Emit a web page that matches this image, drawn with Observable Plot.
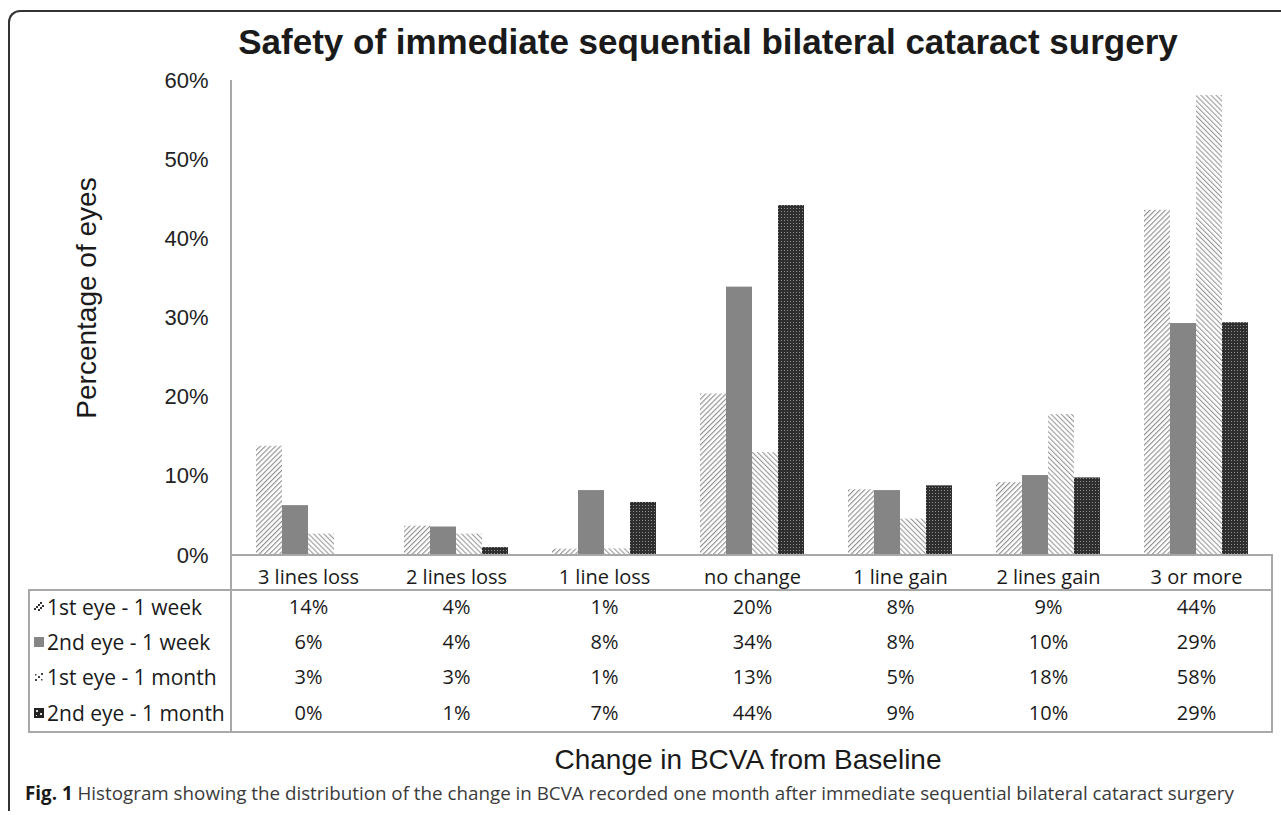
<!DOCTYPE html>
<html>
<head>
<meta charset="utf-8">
<script src="https://cdn.jsdelivr.net/npm/d3@7"></script>
<script src="https://cdn.jsdelivr.net/npm/@observablehq/plot@0.6"></script>
<style>
  body { margin: 0; background: #fff; }
  #wrap { position: relative; width: 1281px; height: 815px; overflow: hidden; background: #fff; font-family: "Liberation Sans", Arial, sans-serif; }
  .frame { position: absolute; left: 8px; top: 10px; width: 1400px; height: 801px; border-left: 2px solid #333; border-top: 2px solid #333; border-top-left-radius: 12px; box-sizing: border-box; }
  .title { position: absolute; left: 208px; width: 1000px; top: 24px; text-align: center; font-weight: bold; font-size: 35px; line-height: 35px; color: #1a1a1a; white-space: nowrap; }
  .ytitle { position: absolute; left: 87px; top: 298px; transform: translate(-50%, -50%) rotate(-90deg); font-size: 28px; color: #1a1a1a; white-space: nowrap; }
  .xtitle { position: absolute; left: 248px; width: 1000px; top: 744px; text-align: center; font-size: 28px; line-height: 32px; color: #1a1a1a; white-space: nowrap; }
  .caption { position: absolute; left: 25px; top: 780px; font-family: "Open Sans", sans-serif; font-size: 18.8px; color: #3a3a3a; white-space: nowrap; }
  .caption b { color: #1a1a1a; }
  .line { position: absolute; background: #a8a8a8; }
  .leg { position: absolute; left: 34px; font-family: "Open Sans", sans-serif; font-size: 21px; color: #1a1a1a; white-space: nowrap; display: flex; align-items: center; height: 30px; }
  .leg svg { margin-right: 3px; }
  #chart { position: absolute; left: 0; top: 0; }
</style>
</head>
<body>
<div id="wrap">
  <div class="frame"></div>
  <div class="title">Safety of immediate sequential bilateral cataract surgery</div>
  <div class="ytitle">Percentage of eyes</div>
  <div id="chart"></div>
  <div class="xtitle">Change in BCVA from Baseline</div>
  <div class="caption"><b>Fig. 1</b> Histogram showing the distribution of the change in BCVA recorded one month after immediate sequential bilateral cataract surgery</div>
</div>
<script>
const categories = ["3 lines loss", "2 lines loss", "1 line loss", "no change", "1 line gain", "2 lines gain", "3 or more"];
const series = ["1st eye - 1 week", "2nd eye - 1 week", "1st eye - 1 month", "2nd eye - 1 month"];
const firstEyeWeek   = [13.8, 3.7, 0.8, 20.4, 8.3, 9.2, 43.6];
const secondEyeWeek  = [6.3, 3.6, 8.2, 33.9, 8.2, 10.1, 29.3];
const firstEyeMonth  = [2.7, 2.7, 0.85, 13.0, 4.6, 17.8, 58.1];
const secondEyeMonth = [0, 1.0, 6.7, 44.2, 8.8, 9.8, 29.4];
const yTicks = [0, 10, 20, 30, 40, 50, 60];

const seriesValues = [firstEyeWeek, secondEyeWeek, firstEyeMonth, secondEyeMonth];
const rows = [];
categories.forEach((c, i) => series.forEach((s, j) => rows.push({category: c, series: s, value: seriesValues[j][i]})));

const tableFont = "'Open Sans', sans-serif";
const rowOffsets = [52, 87, 122, 158];

const svg = Plot.plot({
  width: 1281,
  height: 740,
  marginTop: 80,
  marginBottom: 185,
  marginLeft: 231,
  marginRight: 9,
  style: {fontFamily: "'Liberation Sans', Arial, sans-serif", color: "#222", background: "transparent", overflow: "visible"},
  fx: {domain: categories, padding: 0, axis: null, label: null},
  x: {domain: series, paddingInner: 0, paddingOuter: 0.78, axis: null},
  y: {domain: [0, 60]},
  color: {domain: series, range: ["url(#pat1)", "#858585", "url(#pat3)", "url(#pat4)"]},
  marks: [
    Plot.axisY({ticks: yTicks, tickFormat: d => d + "%", tickSize: 0, tickPadding: 26, fontSize: 22, label: null}),
    Plot.barY(rows, {fx: "category", x: "series", y: "value", fill: "series"}),
    Plot.text(categories, {fx: d => d, text: d => d, frameAnchor: "bottom", lineAnchor: "middle", dy: 22, fontSize: 20, fontFamily: tableFont, fill: "#1a1a1a"}),
    ...series.map((s, j) => Plot.text(rows.filter(r => r.series === s), {
      fx: "category", text: r => Math.round(r.value) + "%", frameAnchor: "bottom", lineAnchor: "middle", dy: rowOffsets[j],
      fontSize: 20, fontFamily: tableFont, fill: "#1a1a1a"
    }))
  ]
});

// patterns
const defs = d3.select(svg).insert("defs", ":first-child");
function hatch(id, angle, color, width) {
  const p = defs.append("pattern").attr("id", id).attr("patternUnits", "userSpaceOnUse")
    .attr("width", 3.6).attr("height", 3.6).attr("patternTransform", `rotate(${angle})`);
  p.append("rect").attr("width", 3.6).attr("height", 3.6).attr("fill", "#fff");
  p.append("rect").attr("width", width).attr("height", 3.6).attr("fill", color);
}
hatch("pat1", 45, "#8e8e8e", 1.1);
hatch("pat3", -45, "#999", 1.1);
const p4 = defs.append("pattern").attr("id", "pat4").attr("patternUnits", "userSpaceOnUse").attr("width", 3).attr("height", 3);
p4.append("rect").attr("width", 3).attr("height", 3).attr("fill", "#2e2e2e");
p4.append("rect").attr("x", 1).attr("y", 1).attr("width", 1).attr("height", 1).attr("fill", "#909090");

document.getElementById("chart").appendChild(svg);

// table / axis lines
const wrap = document.getElementById("wrap");
function line(l, t, w, h) {
  const d = document.createElement("div");
  d.className = "line";
  Object.assign(d.style, {left: l + "px", top: t + "px", width: w + "px", height: h + "px"});
  wrap.appendChild(d);
}
line(230, 80, 2, 476);     // y axis
line(230, 554, 1043, 2);   // baseline
line(28, 589, 1245, 2);    // table top
line(28, 731, 1245, 2);    // table bottom
line(28, 589, 2, 144);     // table left
line(230, 554, 2, 179);    // column divider
line(1271, 554, 2, 179);   // table right

// legend column
const icons = [
  `<svg width="10" height="10"><rect width="10" height="10" fill="#fff"/><g fill="#333"><rect x="6" y="0" width="2" height="2"/><rect x="4" y="2" width="2" height="2"/><rect x="2" y="4" width="2" height="2"/><rect x="0" y="6" width="2" height="2"/><rect x="8" y="3" width="2" height="2"/><rect x="6" y="5" width="2" height="2"/><rect x="4" y="7" width="2" height="2"/></g></svg>`,
  `<svg width="10" height="10"><rect width="10" height="10" fill="#858585"/></svg>`,
  `<svg width="10" height="10"><rect width="10" height="10" fill="#fff"/><g fill="#444"><rect x="7" y="1" width="2" height="2"/><rect x="4" y="4" width="2" height="2"/><rect x="1" y="7" width="2" height="2"/><rect x="1" y="2" width="1.5" height="1.5"/><rect x="7" y="7" width="1.5" height="1.5"/></g></svg>`,
  `<svg width="10" height="10"><rect width="10" height="10" fill="#222"/><g fill="#ddd"><rect x="2" y="2" width="2" height="2"/><rect x="6" y="5" width="2" height="2"/><rect x="2" y="7" width="1" height="1"/></g></svg>`
];
const legendCenters = [607, 642, 677, 713];
series.forEach((s, j) => {
  const d = document.createElement("div");
  d.className = "leg";
  d.style.top = (legendCenters[j] - 15) + "px";
  d.innerHTML = icons[j] + "<span>" + s + "</span>";
  wrap.appendChild(d);
});
</script>
</body>
</html>
